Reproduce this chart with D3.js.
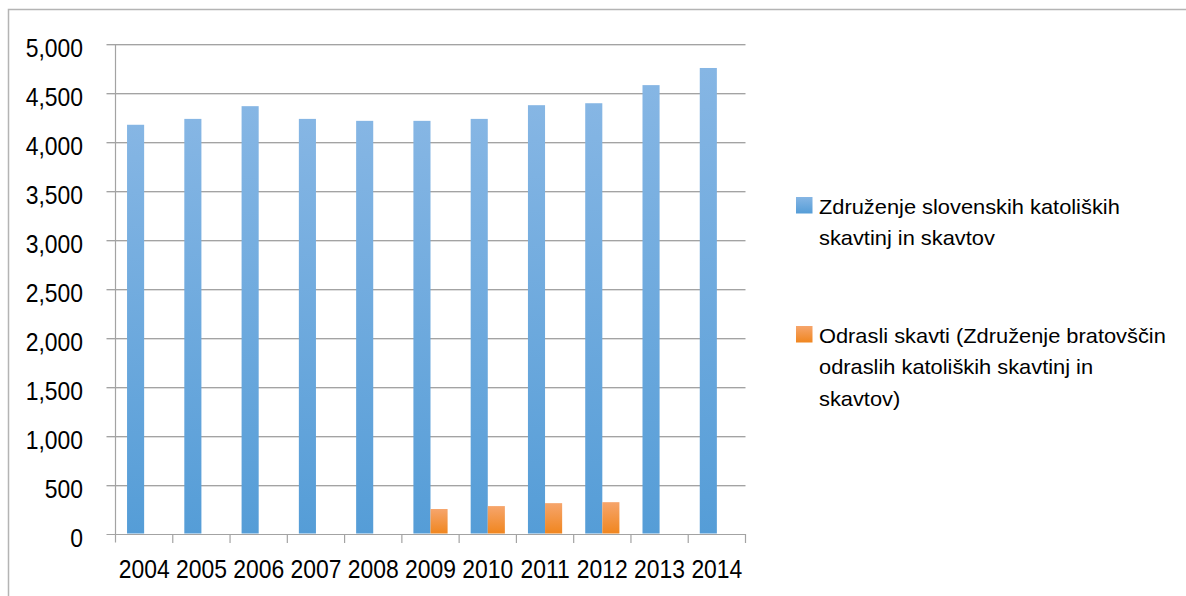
<!DOCTYPE html>
<html>
<head>
<meta charset="utf-8">
<script src="https://cdn.jsdelivr.net/npm/d3@7"></script>
<style>
  html, body { margin: 0; padding: 0; background: #fff; }
  text { font-family: "Liberation Sans", Arial, sans-serif; fill: #000; }
</style>
</head>
<body>
<svg id="chart"></svg>
<script>
// data
const years = ["2004", "2005", "2006", "2007", "2008", "2009", "2010", "2011", "2012", "2013", "2014"];
const zskValues = [4175, 4235, 4365, 4235, 4215, 4215, 4235, 4375, 4395, 4580, 4755];
const odrasliValues = [null, null, null, null, null, 250, 280, 310, 320, null, null];
const yTicks = [0, 500, 1000, 1500, 2000, 2500, 3000, 3500, 4000, 4500, 5000];
const seriesNames = [
  ["Združenje slovenskih katoliških", "skavtinj in skavtov"],
  ["Odrasli skavti (Združenje bratovščin", "odraslih katoliških skavtinj in", "skavtov)"]
];

const width = 1186, height = 596;

const svg = d3.select("#chart")
  .attr("width", width)
  .attr("height", height);

const defs = svg.append("defs");

// gradient fills like the office chart
function addGradient(id, top, bottom) {
  const g = defs.append("linearGradient")
    .attr("id", id)
    .attr("x1", 0).attr("y1", 0)
    .attr("x2", 0).attr("y2", 1);
  g.append("stop").attr("offset", "0%").attr("stop-color", top);
  g.append("stop").attr("offset", "100%").attr("stop-color", bottom);
}
addGradient("grad-blue", "#86b6e4", "#559dd7");
addGradient("grad-orange", "#f6a56c", "#f0861f");

// outer chart frame (runs off the right and bottom edges)
svg.append("rect")
  .attr("x", 8.5)
  .attr("y", 9.5)
  .attr("width", 1200)
  .attr("height", 600)
  .attr("fill", "none")
  .attr("stroke", "#b4b4b4")
  .attr("stroke-width", 1.5);

const plot = { left: 115.5, right: 745.5, top: 44, bottom: 533.5 };

const x = d3.scaleBand()
  .domain(years)
  .range([plot.left, plot.right])
  .padding(0);

const x1 = d3.scaleBand()
  .domain([0, 1])
  .range([0, x.bandwidth()])
  .paddingInner(0)
  .paddingOuter(0.675);

const y = d3.scaleLinear()
  .domain([0, 5000])
  .range([plot.bottom, plot.top]);

// gridlines (with left tick stubs)
const grid = svg.append("g").attr("class", "grid");
grid.selectAll("line.g2")
  .data(yTicks.filter(d => d > 0))
  .enter().append("line")
  .attr("class", "g2")
  .attr("x1", plot.left - 9)
  .attr("x2", plot.right)
  .attr("y1", d => Math.round(y(d)) + 1.5)
  .attr("y2", d => Math.round(y(d)) + 1.5)
  .attr("stroke", "#dedede")
  .attr("stroke-width", 1);
grid.selectAll("line.g1")
  .data(yTicks)
  .enter().append("line")
  .attr("class", "g1")
  .attr("x1", plot.left - 9)
  .attr("x2", plot.right)
  .attr("y1", d => Math.round(y(d)) + 0.5)
  .attr("y2", d => Math.round(y(d)) + 0.5)
  .attr("stroke", "#a3a3a3")
  .attr("stroke-width", 1.2);

// y axis line
svg.append("line")
  .attr("x1", plot.left).attr("x2", plot.left)
  .attr("y1", plot.top).attr("y2", plot.bottom + 9)
  .attr("stroke", "#a3a3a3")
  .attr("stroke-width", 1.2);

// x ticks at category boundaries
const bounds = years.map(d => x(d)).concat([plot.right]);
svg.append("g").selectAll("line")
  .data(bounds.slice(1))
  .enter().append("line")
  .attr("x1", d => d).attr("x2", d => d)
  .attr("y1", Math.round(y(0)))
  .attr("y2", Math.round(y(0)) + 9)
  .attr("stroke", "#a3a3a3")
  .attr("stroke-width", 1.2);

// bars
const bars = svg.append("g").attr("class", "bars");
bars.selectAll("rect.zsk")
  .data(years.map((yr, i) => ({ yr, v: zskValues[i] })))
  .enter().append("rect")
  .attr("class", "zsk")
  .attr("x", d => x(d.yr) + x1(0))
  .attr("width", x1.bandwidth())
  .attr("y", d => y(d.v))
  .attr("height", d => y(0) - y(d.v))
  .attr("fill", "url(#grad-blue)");

bars.selectAll("rect.odr")
  .data(years.map((yr, i) => ({ yr, v: odrasliValues[i] })).filter(d => d.v != null))
  .enter().append("rect")
  .attr("class", "odr")
  .attr("x", d => x(d.yr) + x1(1))
  .attr("width", x1.bandwidth())
  .attr("y", d => y(d.v))
  .attr("height", d => y(0) - y(d.v))
  .attr("fill", "url(#grad-orange)");

// the original font is a condensed one, so squeeze the glyphs horizontally
function textWidth(str, size) {
  const t = svg.append("text").style("font-size", size + "px").text(str);
  const w = t.node().getComputedTextLength();
  t.remove();
  return w;
}
const axisSize = 26.5;
const axisSx = 51 / textWidth("2004", axisSize);
const legendSize = 21;
const legendSx = 301 / textWidth(seriesNames[0][0], legendSize);

// y labels
svg.append("g").selectAll("text")
  .data(yTicks)
  .enter().append("text")
  .attr("transform", d => `translate(83,${y(d) + 13}) scale(${axisSx},1)`)
  .attr("text-anchor", "end")
  .style("font-size", axisSize + "px")
  .text(d => d3.format(",")(d));

// x labels
svg.append("g").selectAll("text")
  .data(years)
  .enter().append("text")
  .attr("transform", d => `translate(${x(d) + x.bandwidth() / 2},577.5) scale(${axisSx},1)`)
  .attr("text-anchor", "middle")
  .style("font-size", axisSize + "px")
  .text(d => d);

// legend
const legendColors = ["url(#grad-blue)", "url(#grad-orange)"];
const legendTop = [197, 326];
seriesNames.forEach((lines, i) => {
  const g = svg.append("g").attr("class", "legend-item");
  g.append("rect")
    .attr("x", 796)
    .attr("y", legendTop[i])
    .attr("width", 16.5)
    .attr("height", 16.5)
    .attr("fill", legendColors[i]);
  g.selectAll("text")
    .data(lines)
    .enter().append("text")
    .attr("transform", (d, j) => `translate(819,${legendTop[i] + 16.5 + j * 31.8}) scale(${legendSx},1)`)
    .style("font-size", legendSize + "px")
    .text(d => d);
});
</script>
</body>
</html>
